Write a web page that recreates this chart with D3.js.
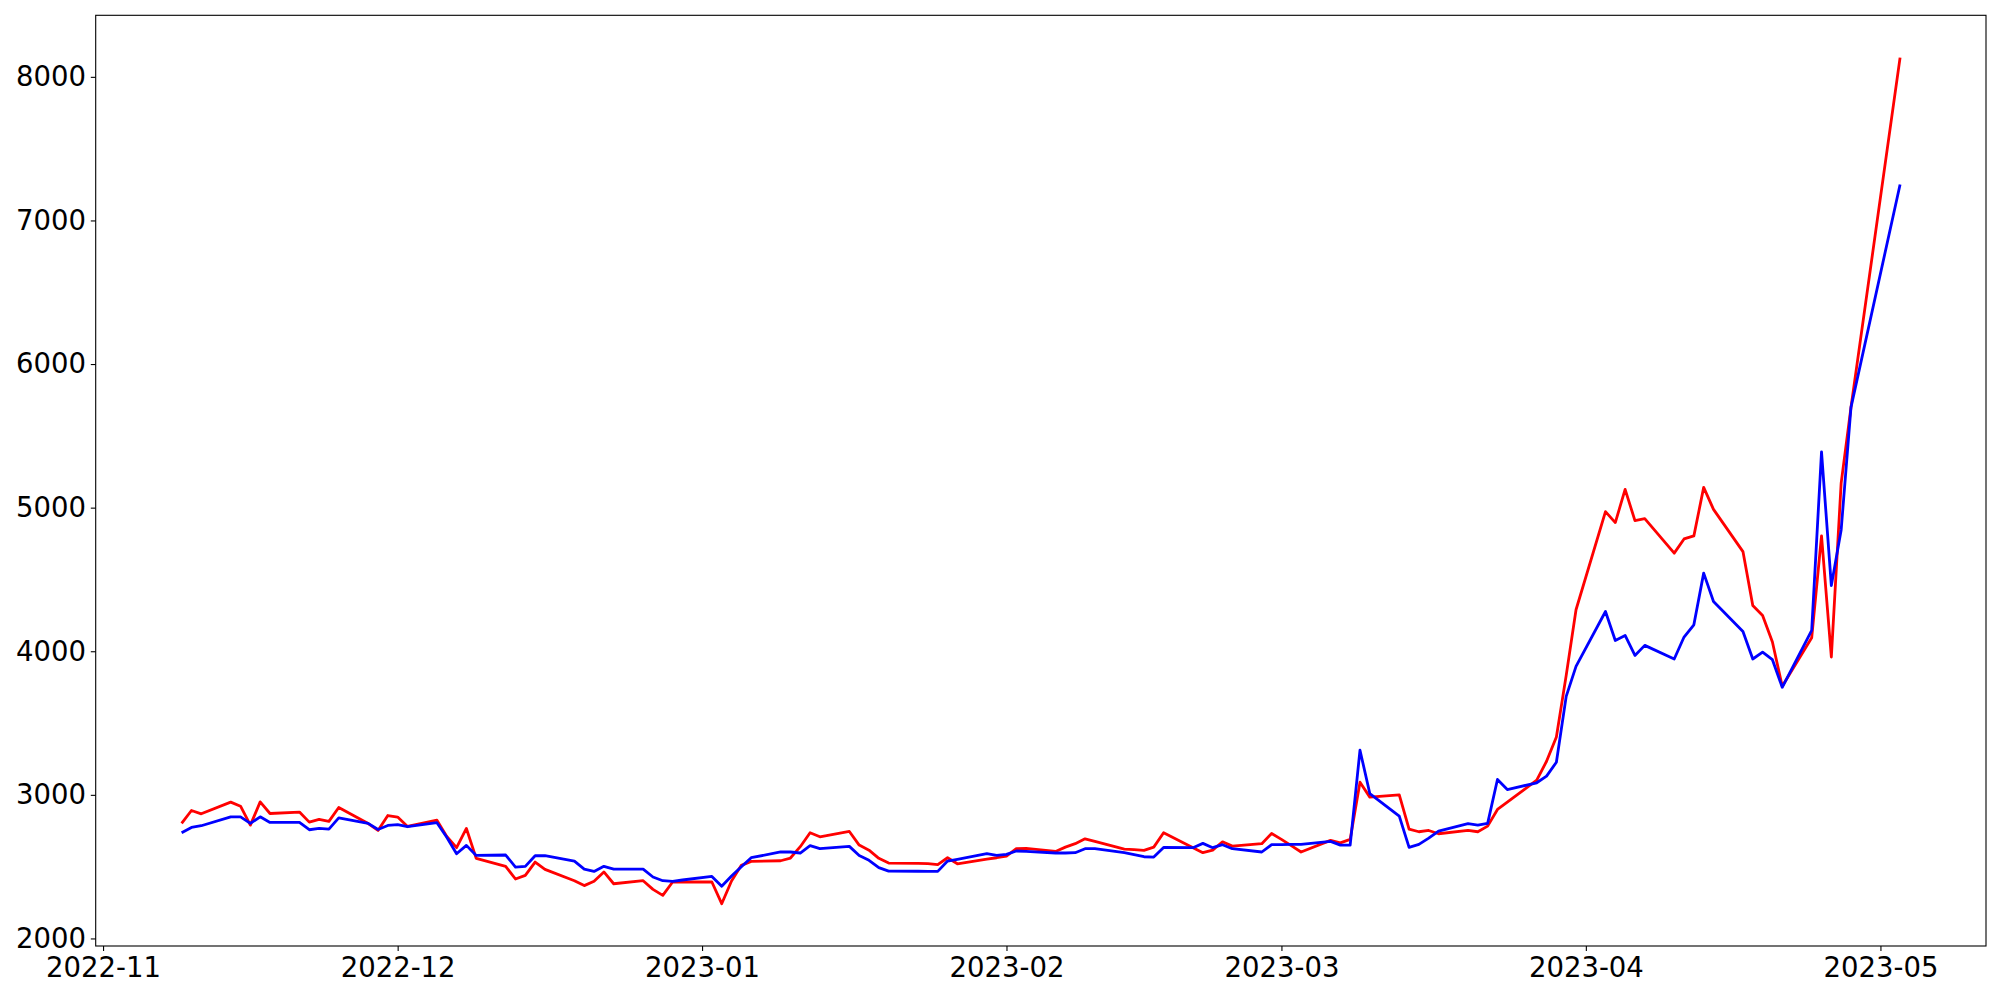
<!DOCTYPE html>
<html>
<head>
<meta charset="utf-8">
<script src="https://cdn.jsdelivr.net/npm/d3@7"></script>
<style>
  html, body { margin: 0; padding: 0; background: #fff; }
  svg { display: block; }
  .tick text { font-family: "DejaVu Sans", sans-serif; font-size: 27.5px; fill: #000; }
</style>
</head>
<body>
<svg id="chart" width="2000" height="1000"></svg>
<script>
// ---- data ----
const dates = [
  "2022-11-09","2022-11-10","2022-11-11","2022-11-14","2022-11-15","2022-11-16","2022-11-17","2022-11-18",
  "2022-11-21","2022-11-22","2022-11-23","2022-11-24","2022-11-25","2022-11-28","2022-11-29","2022-11-30",
  "2022-12-01","2022-12-02","2022-12-05","2022-12-06","2022-12-07","2022-12-08","2022-12-09","2022-12-12",
  "2022-12-13","2022-12-14","2022-12-15","2022-12-16","2022-12-19","2022-12-20","2022-12-21","2022-12-22",
  "2022-12-23","2022-12-26","2022-12-27","2022-12-28","2022-12-29","2022-12-30",
  "2023-01-02","2023-01-03","2023-01-04","2023-01-05","2023-01-06","2023-01-09","2023-01-10","2023-01-11",
  "2023-01-12","2023-01-13","2023-01-16","2023-01-17","2023-01-18","2023-01-19","2023-01-20","2023-01-23",
  "2023-01-24","2023-01-25","2023-01-26","2023-01-27","2023-01-30","2023-01-31",
  "2023-02-01","2023-02-02","2023-02-03","2023-02-06","2023-02-07","2023-02-08","2023-02-09","2023-02-10",
  "2023-02-13","2023-02-14","2023-02-15","2023-02-16","2023-02-17","2023-02-20","2023-02-21","2023-02-22",
  "2023-02-23","2023-02-24","2023-02-27","2023-02-28",
  "2023-03-01","2023-03-02","2023-03-03","2023-03-06","2023-03-07","2023-03-08","2023-03-09","2023-03-10",
  "2023-03-13","2023-03-14","2023-03-15","2023-03-16","2023-03-17","2023-03-20","2023-03-21","2023-03-22",
  "2023-03-23","2023-03-24","2023-03-27","2023-03-28","2023-03-29","2023-03-30","2023-03-31",
  "2023-04-03","2023-04-04","2023-04-05","2023-04-06","2023-04-07","2023-04-10","2023-04-11","2023-04-12",
  "2023-04-13","2023-04-14","2023-04-17","2023-04-18","2023-04-19","2023-04-20","2023-04-21","2023-04-24",
  "2023-04-25","2023-04-26","2023-04-27","2023-04-28",
  "2023-05-03"
];

const redValues = [
  2801, 2891, 2868, 2949, 2921, 2789, 2951, 2870, 2880, 2810, 2829, 2815, 2912, 2800, 2752, 2856,
  2845, 2780, 2824, 2710, 2632, 2766, 2558, 2502, 2414, 2439, 2532, 2481, 2402, 2368, 2398, 2463,
  2381, 2402, 2342, 2300, 2393, 2393,
  2393, 2242, 2400, 2509, 2537, 2541, 2560, 2639, 2736, 2708, 2745, 2650, 2615, 2558, 2525, 2523,
  2521, 2514, 2562, 2520, 2553, 2562,
  2574, 2625, 2627, 2606, 2636, 2660, 2694, 2676, 2622, 2618, 2613, 2636, 2736, 2632, 2597, 2615,
  2673, 2643, 2660, 2731,
  2690, 2646, 2602, 2683, 2666, 2690, 3088, 2984, 3000, 2761, 2743, 2752, 2729, 2752, 2743, 2782,
  2898, 2949, 3102, 3234, 3403, 3832, 4289,
  4972, 4896, 5127, 4910, 4924, 4683, 4782, 4803, 5141, 4988, 4694, 4319, 4249, 4064, 3756, 4094,
  4804, 3960, 5171, 5698,
  8134
];

const blueValues = [
  2736, 2773, 2785, 2847, 2847, 2801, 2847, 2808, 2808, 2757, 2766, 2761, 2840, 2801, 2759, 2787,
  2792, 2778, 2806, 2705, 2590, 2648, 2578, 2581, 2497, 2502, 2576, 2576, 2539, 2483, 2467, 2502,
  2483, 2483, 2428, 2402, 2398, 2407,
  2432, 2363, 2435, 2499, 2562, 2602, 2602, 2595, 2646, 2625, 2641, 2578, 2544, 2493, 2469, 2468,
  2467, 2467, 2539, 2551, 2590, 2578,
  2585, 2609, 2606, 2595, 2595, 2597, 2625, 2625, 2597, 2583, 2569, 2567, 2634, 2632, 2662, 2632,
  2653, 2625, 2602, 2653,
  2653, 2655, 2655, 2676, 2650, 2650, 3311, 3009, 2852, 2634, 2655, 2699, 2748, 2799, 2789, 2801,
  3107, 3037, 3084, 3130, 3227, 3686, 3895,
  4277, 4075, 4110, 3971, 4041, 3946, 4099, 4184, 4544, 4347, 4138, 3946, 3994, 3941, 3749, 4146,
  5388, 4457, 4845, 5698,
  7250
];

const yTickValues = [2000, 3000, 4000, 5000, 6000, 7000, 8000];
const xTickLabels = ["2022-11", "2022-12", "2023-01", "2023-02", "2023-03", "2023-04", "2023-05"];

const seriesList = [
  { name: "red", values: redValues, color: "#ff0000" },
  { name: "blue", values: blueValues, color: "#0000ff" }
];

// ---- layout ----
const W = 2000, H = 1000;
const margin = { left: 95.7, right: 14, top: 15.3, bottom: 54 };
const plotW = W - margin.left - margin.right;
const plotH = H - margin.top - margin.bottom;

const parse = d3.utcParse("%Y-%m-%d");
const parseMonth = d3.utcParse("%Y-%m");
const xDates = dates.map(parse);

// matplotlib-like 5% margins
const tExt = d3.extent(xDates);
const tPad = (tExt[1] - tExt[0]) * 0.05;
const allVals = redValues.concat(blueValues);
const vExt = d3.extent(allVals);
const vPad = (vExt[1] - vExt[0]) * 0.05;

const x = d3.scaleUtc()
  .domain([new Date(+tExt[0] - tPad), new Date(+tExt[1] + tPad)])
  .range([0, plotW]);
const y = d3.scaleLinear()
  .domain([vExt[0] - vPad, vExt[1] + vPad])
  .range([plotH, 0]);

const svg = d3.select("#chart");
svg.append("rect").attr("width", W).attr("height", H).attr("fill", "#fff");
const g = svg.append("g").attr("transform", `translate(${margin.left},${margin.top})`);

// lines
const line = d3.line()
  .x((d, i) => x(xDates[i]))
  .y(d => y(d));

seriesList.forEach(s => {
  g.append("path")
    .datum(s.values)
    .attr("fill", "none")
    .attr("stroke", s.color)
    .attr("stroke-width", 2.8)
    .attr("stroke-linejoin", "round")
    .attr("stroke-linecap", "butt")
    .attr("d", line);
});

// axes
const tickLen = 4.9, tickPad = 4.9;
const xAxis = d3.axisBottom(x)
  .tickValues(xTickLabels.map(parseMonth))
  .tickFormat(d3.utcFormat("%Y-%m"))
  .tickSizeInner(tickLen).tickSizeOuter(0).tickPadding(tickPad);
const yAxis = d3.axisLeft(y)
  .tickValues(yTickValues)
  .tickFormat(d3.format("d"))
  .tickSizeInner(tickLen).tickSizeOuter(0).tickPadding(tickPad);

const gx = g.append("g").attr("transform", `translate(0,${plotH})`).call(xAxis);
const gy = g.append("g").call(yAxis);
[gx, gy].forEach(a => {
  a.select(".domain").remove();
  a.selectAll(".tick line").attr("stroke", "#000").attr("stroke-width", 1.1);
});
gx.selectAll(".tick text").attr("dy", "0.76em");

// frame (spines)
g.append("rect")
  .attr("x", 0).attr("y", 0).attr("width", plotW).attr("height", plotH)
  .attr("fill", "none").attr("stroke", "#000").attr("stroke-width", 1.1);
</script>
</body>
</html>
